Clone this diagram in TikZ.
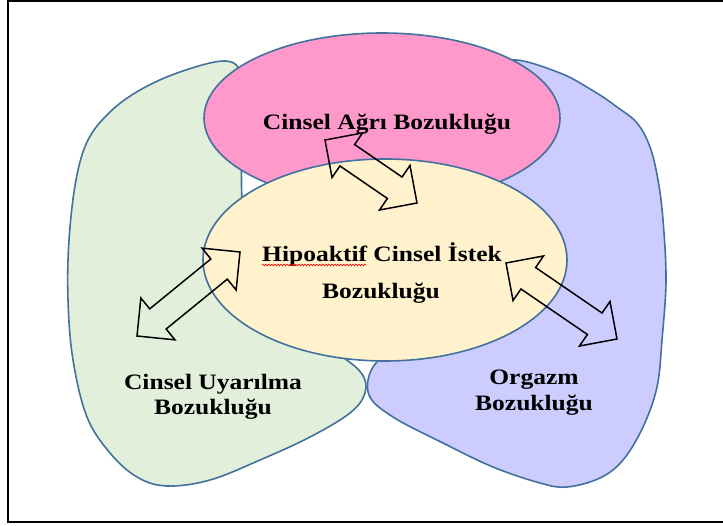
\documentclass[tikz,border=0pt]{standalone}
\usepackage{fontspec}
\setmainfont{Liberation Serif}[FakeStretch=1.16]
\usetikzlibrary{shapes.geometric, calc, decorations.pathmorphing}
\definecolor{agripink}{HTML}{FF99CC}
\definecolor{istekyellow}{HTML}{FFF2CC}
\definecolor{uyarilmagreen}{HTML}{E2EFDA}
\definecolor{orgazmblue}{HTML}{CCCCFF}
\definecolor{edgeblue}{HTML}{41719C}
% hollow two-headed arrow between two named points
\newcommand{\twoway}[2]{%
\draw[bigarrow] (#1)
  -- ($(#1)!27pt!(#2)!27pt!90:(#2)$)
  -- ($(#1)!27pt!(#2)!13pt!90:(#2)$)
  -- ($(#2)!27pt!(#1)!13pt!-90:(#1)$)
  -- ($(#2)!27pt!(#1)!27pt!-90:(#1)$)
  -- (#2)
  -- ($(#2)!27pt!(#1)!27pt!90:(#1)$)
  -- ($(#2)!27pt!(#1)!13pt!90:(#1)$)
  -- ($(#1)!27pt!(#2)!13pt!-90:(#2)$)
  -- ($(#1)!27pt!(#2)!27pt!-90:(#2)$)
  -- cycle;}

\begin{document}
\begin{tikzpicture}[x=1pt, y=-1pt,
  blob/.style={draw=edgeblue, line width=1.6pt},
  bigarrow/.style={draw=black, line width=1.5pt, line join=miter},
  lbl/.style={font=\fontsize{22}{25}\selectfont\bfseries, inner sep=0pt, anchor=base}]
\useasboundingbox (0,0) rectangle (723,526);
\draw[line width=2pt] (8,1.5) rectangle (760,521.5);

\draw[blob, fill=uyarilmagreen] plot[smooth cycle, tension=0.6] coordinates {
  (225,61) (180,72) (140,90) (110,112) (88,140) (76,180) (69,240) (68,300)
  (73,360) (87,417) (110,453) (137,477) (167,486) (210,480) (260,460)
  (310,437) (350,413) (365,393) (362,374) (340,355) (290,320) (250,260)
  (242,200) (242,120) (241,75)};
\draw[blob, fill=orgazmblue] plot[smooth cycle, tension=0.6] coordinates {
  (512,60) (560,73) (595,92) (617,107) (637,123) (650,147) (658,180)
  (663,220) (666,280) (662,340) (657,387) (643,427) (623,460) (600,478)
  (567,487) (540,483) (493,467) (443,443) (393,417) (369,395) (373,367)
  (400,345) (460,300) (490,230) (495,150) (495,80)};
\node (agri) [blob, ellipse, fill=agripink, minimum width=356pt, minimum height=170pt, inner sep=0pt] at (382,118) {};
\node (istek) [blob, ellipse, fill=istekyellow, minimum width=364pt, minimum height=202pt, inner sep=0pt] at (385,260) {};

\coordinate (a1) at (325,140);
\coordinate (a2) at (417,203);
\coordinate (b1) at (240,252);
\coordinate (b2) at (137,336);
\coordinate (c1) at (506,263);
\coordinate (c2) at (617,339);
\twoway{a1}{a2}
\twoway{b1}{b2}
\twoway{c1}{c2}

\node (t1) [lbl] at (387,130) {Cinsel Ağrı Bozukluğu};
\node (t2) [lbl] at (382,262) {Hipoaktif Cinsel İstek};
\node (t3) [lbl] at (381,299) {Bozukluğu};
\node (t4) [lbl] at (213,390) {Cinsel Uyarılma};
\node (t5) [lbl] at (213,415) {Bozukluğu};
\node (t6) [lbl] at (534,385) {Orgazm};
\node (t7) [lbl] at (534,410) {Bozukluğu};
\draw[red, line width=.6pt, decorate, decoration={snake, amplitude=.8pt, segment length=3pt}]
  ($(t2.base west)+(0,3)$) -- ++(104,0);
\end{tikzpicture}
\end{document}
